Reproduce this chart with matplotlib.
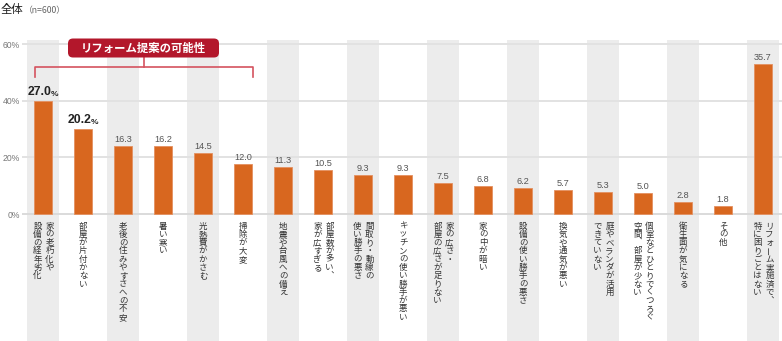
import matplotlib
matplotlib.use("Agg")
import matplotlib.pyplot as plt
from matplotlib.patches import FancyBboxPatch
from matplotlib.transforms import Affine2D

plt.rcParams['font.family'] = ['Noto Sans CJK JP', 'DejaVu Sans']

# Survey data (n=600): housing concerns, percent of respondents
categories = [
    "家の老朽化や\n設備の経年劣化",
    "部屋が片付かない",
    "老後の住みやすさへの不安",
    "暑い寒い",
    "光熱費がかさむ",
    "掃除が大変",
    "地震や台風への備え",
    "部屋数が多い、\n家が広すぎる",
    "間取り・動線の\n使い勝手の悪さ",
    "キッチンの使い勝手が悪い",
    "家の広さ・\n部屋の広さが足りない",
    "家の中が暗い",
    "設備の使い勝手の悪さ",
    "換気や通気が悪い",
    "庭やベランダが活用\nできていない",
    "個室などひとりでくつろぐ\n空間、部屋が少ない",
    "衛生面が気になる",
    "その他",
    "リフォーム実施済で、\n特に困りごとはない",
]
values = [27.0, 20.2, 16.3, 16.2, 14.5, 12.0, 11.3, 10.5, 9.3, 9.3,
          7.5, 6.8, 6.2, 5.7, 5.3, 5.0, 2.8, 1.8, 35.7]
highlighted = [0, 1]
tick_positions = [0, 13.5, 27, 40.5]
tick_labels = ["0%", "20%", "40%", "60%"]

W, H = 782, 341
BAR = "#d8671f"
BAND = "#ececec"
RED = "#b3172b"
BRACKET = "#d4535f"
CJK = ['Noto Sans CJK JP', 'DejaVu Sans']

fig = plt.figure(figsize=(W / 100, H / 100), dpi=100)
ax = fig.add_axes([22 / W, 0, 1 - 22 / W, 1 - 40 / H])

n = len(categories)
xs = list(range(n))

# alternating grey column bands
for i in xs:
    if i % 2 == 0:
        ax.axvspan(i - 0.41, i + 0.41, color=BAND, lw=0, zorder=0)

for t in tick_positions:
    ax.axhline(t, color="#e2e2e2" if t else "#dadada", lw=1.4, zorder=1)

ax.bar(xs, values, width=0.46, color=BAR, edgecolor="#e49060", linewidth=0.6, zorder=3)

ax.set_xlim((22 - 43) / 40, (W - 43) / 40)
ax.set_ylim(-(H - 214) / 4.19, (214 - 40) / 4.19)
ax.set_yticks(tick_positions)
ax.set_yticklabels(tick_labels, fontsize=6.2, color="#777777", family=['Liberation Sans'])
ax.tick_params(axis='y', length=0, pad=1.5)
ax.set_xticks([])
for s in ax.spines.values():
    s.set_visible(False)
ax.patch.set_alpha(0)

# value labels
for i, v in zip(xs, values):
    if i in highlighted:
        ax.annotate(f"{v:.1f}", xy=(i, v), xycoords='data', xytext=(9, 3),
                    textcoords='offset pixels', ha='right', va='bottom',
                    fontsize=8.8, fontweight='bold', color="#222222",
                    family=['Liberation Sans'], zorder=5)
        ax.annotate("%", xy=(i, v), xycoords='data', xytext=(8, 3),
                    textcoords='offset pixels', ha='left', va='bottom',
                    fontsize=6, fontweight='bold', color="#222222",
                    family=['Liberation Sans'], zorder=5)
    else:
        ax.annotate(f"{v:.1f}", xy=(i, v), xycoords='data', xytext=(0, 2),
                    textcoords='offset pixels', ha='center', va='bottom',
                    fontsize=6.6, color="#555555", family=['Liberation Sans'],
                    zorder=5)

# vertical (top-to-bottom, right-to-left) category labels
STEP = 8.3
for i, label in enumerate(categories):
    cols = label.split("\n")
    if len(cols) == 1:
        offsets = [0]
    else:
        offsets = [6.5, -5.5]
    for col, dx in zip(cols, offsets):
        for k, ch in enumerate(col):
            rot = 0
            if ch == "ー":
                rot = 90
            elif ch == "、":
                ch = "\ufe11"
            ax.annotate(ch, xy=(i, 0), xycoords='data',
                        xytext=(dx, -(12 + k * STEP)),
                        textcoords='offset pixels', ha='center', va='center',
                        rotation=rot, fontsize=6.1, color="#333333",
                        family=CJK, annotation_clip=False, zorder=5)

# pixel transform (origin top-left) for header elements
px = Affine2D().scale(1 / W, -1 / H).translate(0, 1) + fig.transFigure

fig.text(1, 10, "全体", transform=px, fontsize=8.2, color="#222222",
         ha='left', va='center', family=CJK)
fig.text(24, 10.5, "（n=600）", transform=px, fontsize=6.3, color="#666666",
         ha='left', va='center', family=CJK)

# bracket grouping the first six items
bx0, bx1, by, bdrop, cx = 34.5, 252.5, 66.5, 77, 143.5
fig.add_artist(plt.Line2D([bx0, bx0, bx1, bx1], [bdrop, by, by, bdrop],
                          transform=px, color=BRACKET, lw=1.2))
fig.add_artist(plt.Line2D([cx, cx], [55, by], transform=px,
                          color=BRACKET, lw=1.2))
box = FancyBboxPatch((68, 38.5), 151, 19, boxstyle="round,pad=0,rounding_size=5",
                     transform=px, facecolor=RED, edgecolor='none', zorder=6)
fig.add_artist(box)
fig.text(143.5, 48, "リフォーム提案の可能性", transform=px, fontsize=8.2,
         fontweight='bold', color="white", ha='center', va='center',
         family=CJK, zorder=7)

fig.savefig("out.png", dpi=100)
